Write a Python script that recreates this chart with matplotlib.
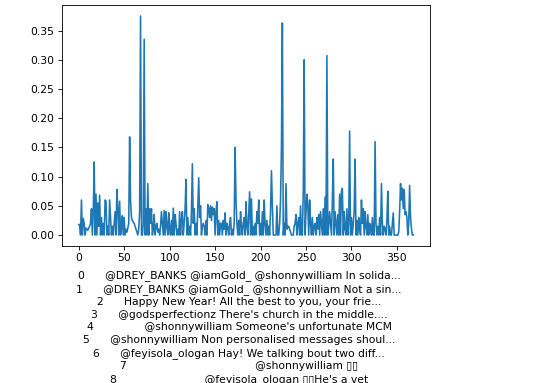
import matplotlib
matplotlib.use("Agg")
import matplotlib.pyplot as plt
import numpy as np

# score per tweet
scores = [
    0.018, 0.018, 0.0, 0.06, 0.0, 0.028, 0.02, 0.0, 0.012, 0.01,
    0.008, 0.012, 0.015, 0.02, 0.045, 0.0, 0.04, 0.125, 0.0, 0.07,
    0.0, 0.055, 0.015, 0.068, 0.0, 0.03, 0.0, 0.02, 0.0, 0.06,
    0.058, 0.0, 0.015, 0.0, 0.06, 0.03, 0.0, 0.015, 0.0, 0.02,
    0.04, 0.0, 0.078, 0.045, 0.0, 0.058, 0.0, 0.012, 0.033, 0.0,
    0.03, 0.0, 0.01, 0.005, 0.012, 0.02, 0.168, 0.06, 0.03, 0.025,
    0.022, 0.02, 0.015, 0.01, 0.005, 0.0, 0.01, 0.04, 0.375, 0.0,
    0.0, 0.02, 0.335, 0.0, 0.045, 0.0, 0.088, 0.0, 0.045, 0.02,
    0.045, 0.0, 0.01, 0.035, 0.0, 0.015, 0.02, 0.005, 0.01, 0.0,
    0.015, 0.04, 0.02, 0.0, 0.042, 0.0, 0.04, 0.015, 0.0, 0.038,
    0.01, 0.0, 0.025, 0.0, 0.046, 0.0, 0.035, 0.02, 0.0, 0.01,
    0.0, 0.04, 0.0, 0.025, 0.04, 0.0, 0.02, 0.045, 0.095, 0.0,
    0.03, 0.0, 0.015, 0.0, 0.04, 0.122, 0.02, 0.045, 0.0, 0.02,
    0.0, 0.05, 0.098, 0.03, 0.05, 0.0, 0.015, 0.02, 0.015, 0.0,
    0.025, 0.0, 0.052, 0.045, 0.03, 0.05, 0.025, 0.048, 0.035, 0.045,
    0.0, 0.04, 0.057, 0.0, 0.025, 0.0, 0.02, 0.02, 0.0, 0.025,
    0.01, 0.038, 0.0, 0.02, 0.012, 0.0, 0.02, 0.03, 0.0, 0.01,
    0.0, 0.02, 0.15, 0.06, 0.02, 0.0, 0.025, 0.0, 0.04, 0.015,
    0.0, 0.02, 0.03, 0.0, 0.057, 0.015, 0.0, 0.035, 0.074, 0.0,
    0.062, 0.0, 0.015, 0.0, 0.02, 0.0, 0.04, 0.02, 0.06, 0.0,
    0.02, 0.0, 0.04, 0.0, 0.06, 0.02, 0.0, 0.025, 0.0, 0.015,
    0.0, 0.04, 0.11, 0.05, 0.0, 0.0, 0.0, 0.0, 0.05, 0.0,
    0.0, 0.02, 0.06, 0.15, 0.363, 0.0, 0.02, 0.0, 0.088, 0.01,
    0.015, 0.015, 0.01, 0.005, 0.0, 0.0, 0.0, 0.015, 0.02, 0.035,
    0.0, 0.02, 0.03, 0.0, 0.05, 0.0, 0.0, 0.075, 0.3, 0.0,
    0.04, 0.07, 0.05, 0.0, 0.06, 0.02, 0.0, 0.03, 0.0, 0.015,
    0.02, 0.0, 0.03, 0.01, 0.035, 0.0, 0.04, 0.02, 0.0, 0.045,
    0.0, 0.065, 0.0, 0.307, 0.0, 0.015, 0.04, 0.02, 0.0, 0.06,
    0.13, 0.0, 0.04, 0.02, 0.0, 0.035, 0.0, 0.07, 0.0, 0.075,
    0.08, 0.0, 0.04, 0.01, 0.0, 0.045, 0.0, 0.02, 0.178, 0.0,
    0.03, 0.0, 0.02, 0.04, 0.13, 0.0, 0.025, 0.0, 0.03, 0.01,
    0.0, 0.06, 0.02, 0.045, 0.0, 0.04, 0.015, 0.0, 0.035, 0.0,
    0.02, 0.015, 0.0, 0.03, 0.0, 0.0, 0.16, 0.02, 0.0, 0.015,
    0.0, 0.03, 0.0, 0.088, 0.02, 0.0, 0.015, 0.01, 0.0, 0.025,
    0.075, 0.0, 0.015, 0.0, 0.0, 0.02, 0.038, 0.0, 0.0, 0.0,
    0.0, 0.0, 0.005, 0.04, 0.088, 0.06, 0.08, 0.045, 0.078, 0.035,
    0.04, 0.03, 0.0, 0.02, 0.085, 0.03, 0.01, 0.0, 0.0,
]

# tweet texts as shown in the series printout used as the x label;
# the emoji show up as boxes in the reference, kept here as box glyphs
tweets = [
    "@DREY_BANKS @iamGold_ @shonnywilliam In solida...",
    "@DREY_BANKS @iamGold_ @shonnywilliam Not a sin...",
    "Happy New Year! All the best to you, your frie...",
    "@godsperfectionz There's church in the middle....",
    "@shonnywilliam Someone's unfortunate MCM",
    "@shonnywilliam Non personalised messages shoul...",
    "@feyisola_ologan Hay! We talking bout two diff...",
    "@shonnywilliam \u25af\u25af",
    "@feyisola_ologan \u25af\u25afHe's a vet",
]

# right-justified like a pandas Series repr
col_width = 55
label = "\n".join(f"{i}" + " " * (col_width - len(t)) + t for i, t in enumerate(tweets))

dpi = 77
fig = plt.figure(figsize=(537 / dpi, 383 / dpi), dpi=dpi)
ax = fig.add_axes([62 / 537, (383 - 246) / 383, 368 / 537, 241 / 383])

ax.plot(np.arange(len(scores)), scores)
ax.set_xlabel(label, linespacing=1.33)
ax.xaxis.set_label_coords(0.481, -0.1)

fig.savefig("out.png", dpi=dpi)
